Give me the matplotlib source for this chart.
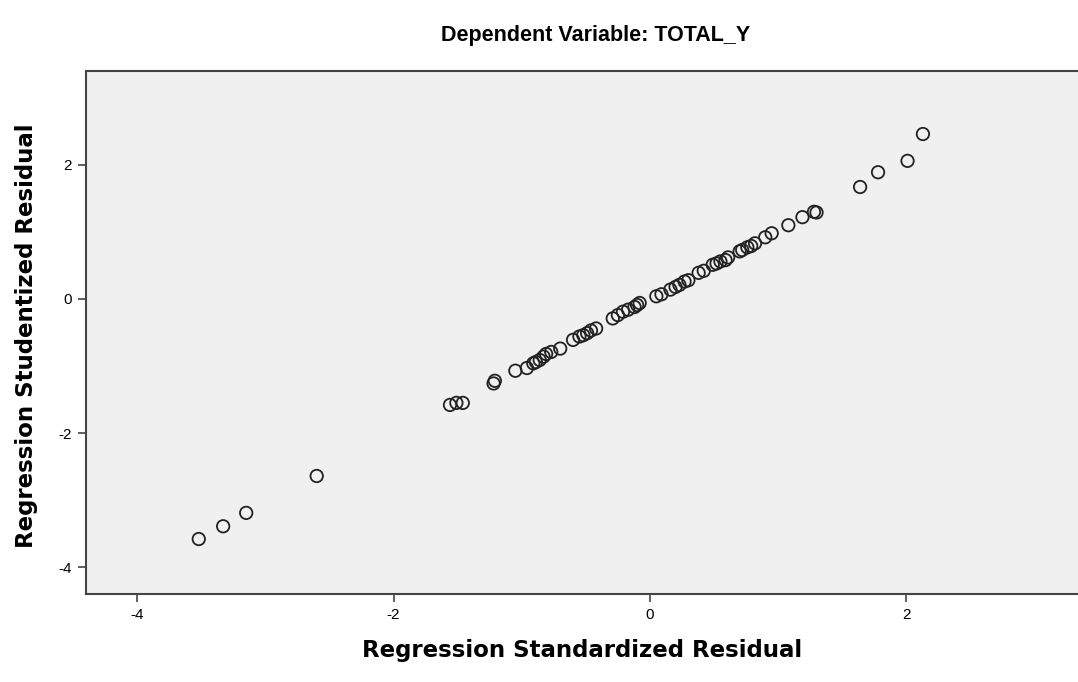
import numpy as np
import matplotlib
matplotlib.use("Agg")
import matplotlib.pyplot as plt

plt.rcParams['font.family'] = ['Liberation Sans', 'DejaVu Sans']
plt.rcParams['axes.unicode_minus'] = False

# standardized residual (x) vs studentized residual (y)
std_resid = [-3.52, -3.33, -3.15, -2.60,
             -1.56, -1.51, -1.46, -1.22, -1.21, -1.05, -0.96,
             -0.91, -0.89, -0.86, -0.83, -0.81, -0.77, -0.70,
             -0.60, -0.55, -0.52, -0.49, -0.46, -0.42,
             -0.29, -0.25, -0.21, -0.17, -0.12, -0.10, -0.08,
             0.05, 0.09, 0.16, 0.20, 0.23, 0.27, 0.30,
             0.38, 0.42, 0.49, 0.52, 0.55, 0.59, 0.61,
             0.70, 0.72, 0.76, 0.79, 0.82,
             0.90, 0.95, 1.08, 1.19, 1.28, 1.30,
             1.64, 1.78, 2.01, 2.13]
stu_resid = [-3.58, -3.39, -3.19, -2.64,
             -1.58, -1.55, -1.55, -1.26, -1.22, -1.07, -1.03,
             -0.96, -0.94, -0.91, -0.86, -0.82, -0.79, -0.74,
             -0.61, -0.56, -0.54, -0.51, -0.47, -0.44,
             -0.29, -0.24, -0.19, -0.16, -0.12, -0.09, -0.06,
             0.04, 0.07, 0.14, 0.18, 0.21, 0.26, 0.28,
             0.39, 0.42, 0.51, 0.53, 0.56, 0.58, 0.62,
             0.71, 0.73, 0.77, 0.79, 0.83,
             0.92, 0.98, 1.10, 1.22, 1.30, 1.29,
             1.67, 1.89, 2.06, 2.46]

x_ticks = [-4, -2, 0, 2]
y_ticks = [-4, -2, 0, 2]

fig = plt.figure(figsize=(10.78, 6.82), dpi=100)
ax = fig.add_axes([86 / 1078, 1 - 594 / 682, 1 - 86 / 1078, (594 - 71) / 682])
ax.set_facecolor('#f0f0f0')

ax.scatter(std_resid, stu_resid, s=80, facecolors='none', edgecolors='#222222', linewidths=1.3)

ax.set_xlim(-4.40, 3.34)
ax.set_ylim(-4.40, 3.40)
ax.set_xticks(x_ticks)
ax.set_yticks(y_ticks)
ax.tick_params(direction='out', length=6, width=1.2, color='#444444', labelsize=11, pad=4)

for side in ['left', 'top', 'bottom']:
    ax.spines[side].set_color('#444444')
    ax.spines[side].set_linewidth(1.5)
ax.spines['right'].set_visible(False)

lab_font = dict(family='DejaVu Sans', fontsize=16.5, fontweight='bold')
ax.set_xlabel('Regression Standardized Residual', labelpad=12, **lab_font)
ax.set_ylabel('Regression Studentized Residual', labelpad=12, **lab_font)
ax.yaxis.set_label_coords(-(86 - 38) / 992, (594 - 336) / 523)
fig.text(596 / 1078, 1 - 36 / 682, 'Dependent Variable: TOTAL_Y', fontsize=15.5,
         fontweight='bold', ha='center', va='center')

fig.savefig('out.png', dpi=100)
